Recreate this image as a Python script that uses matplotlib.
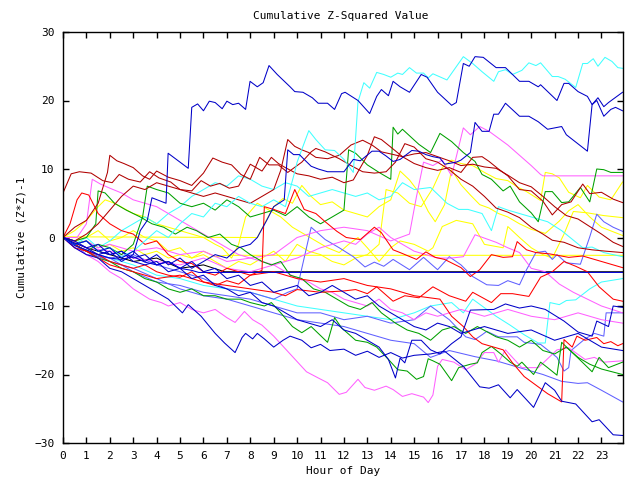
import matplotlib
matplotlib.use('Agg')
import matplotlib.pyplot as plt

# each series: list of (hour, cumulative value)
blue_top = [(0,0),(0.5,-0.8),(1,-1.5),(1.5,-2.5),(2,-2),(2.5,-3.5),(3,-2.5),(3.3,1),(3.6,2.5),(3.8,5.8),(4.4,5),(4.49,12.3),
            (5.35,10.1),(5.5,19),(5.75,19.5),(6.0,18.5),(6.25,19.9),(6.5,19.7),(6.8,18.8),(7.0,19.9),(7.25,19.4),(7.5,19.6),
            (7.8,18.7),(7.99,22.8),(8.3,22),(8.55,22.6),(8.8,25.1),(9.15,23.8),(9.7,22),(9.9,21.3),(10.25,21.2),(10.65,20.4),
            (10.9,19.6),(11.3,19.6),(11.6,18.7),(11.9,21),(12.05,21.2),(12.6,20),(13.1,18.1),(13.4,20.6),(13.6,21.6),(13.9,20.7),
            (14.1,22.8),(14.4,22),(14.8,21.2),(15.3,23.8),(15.55,23.4),(16,21.2),(16.6,19.3),(16.8,19.7),(17.1,25.4),(17.35,25),
            (17.6,26.4),(17.95,26.3),(18.5,24.8),(18.9,24.8),(19.5,22.8),(19.9,22.8),(20.3,22),(20.4,22.3),(21.1,20),(21.4,22.5),
            (21.6,22.5),(22,21.3),(22.4,20.6),(22.6,19.4),(22.8,20),(23.1,17.7),(23.4,18.7),(23.6,19),(23.9,18.5)]
blue_hi = [(0,0),(0.5,-1),(1,-0.5),(1.5,-2),(2,-1.5),(2.5,-3),(3,-2),(3.5,-3.5),(4,-2.5),(4.5,-4),(5,-3),(5.5,-4.5),(6,-3.5),
           (6.5,-2.5),(7,-3),(7.5,-1.5),(8,-1),(8.3,0),(8.7,2.5),(9.0,4.5),(9.45,5.5),(9.6,12.8),(9.85,12.1),(10.1,12.1),(10.3,11.4),
           (10.6,10.4),(10.9,10),(11.3,9.6),(12.0,9.6),(12.4,11.4),(12.7,11.2),(13.2,12.6),(13.5,12.6),(13.8,11.9),(14.1,11.1),
           (14.4,11.4),(14.9,12.7),(15.2,12.6),(15.5,12.1),(15.8,11.8),(16.1,11.6),(16.3,10.7),(16.8,11),(17.0,11.3),(17.4,12.4),
           (17.6,16.8),(17.9,15.5),(18.2,15.5),(18.4,18),(18.6,18),(18.9,19.6),(19.5,17.7),(19.9,17.7),(20.3,16.9),(20.7,15.8),
           (21.3,16.2),(21.5,15),(22.4,12.6),(22.6,19.4),(22.85,20.4),(23.1,19.1),(23.3,19.7),(23.9,21.2)]
cyan_top = [(0,0),(0.5,-1),(1,-0.5),(1.5,-2),(2,-1.5),(2.5,-2.8),(3,-2),(3.5,-0.5),(4,1),(4.5,0),(5,2),(5.5,3.5),(6,3),(6.5,5),
            (7,4.5),(7.5,6),(8,5),(8.5,4.5),(9,5.5),(9.5,4.5),(9.9,9.6),(10.0,11),(10.5,15.6),(10.8,14.3),(11.2,12.8),(11.6,12.7),
            (12.0,11.4),(12.4,9.5),(12.6,19.8),(12.85,22.6),(13.1,21.8),(13.4,24.1),(13.7,23.8),(14.0,23.4),(14.3,24),(14.5,23.8),
            (14.8,24.8),(15.1,24),(15.4,24),(15.6,23.3),(15.8,23.9),(16.4,23),(17.1,26.4),(17.5,25.4),(17.9,24.2),(18.4,22.8),
            (18.6,24.2),(18.9,24.5),(19.2,23.8),(19.6,24.4),(19.9,25.5),(20.2,25.1),(20.4,25.5),(20.9,23.5),(21.15,23.5),(21.45,23.1),
            (21.9,21.9),(22.2,25.4),(22.4,25.4),(22.65,26.1),(22.85,25),(23.15,26.3),(23.45,25.7),(23.7,24.8),(23.9,24.7)]
blue_low = [(0,0),(0.5,-1.5),(1,-2.5),(1.5,-3),(2,-4.5),(2.5,-5),(3,-6),(3.5,-7),(4,-8),(4.5,-9),(5.1,-11),(5.35,-9.8),(5.9,-11.5),
            (6.5,-14),(6.9,-15.4),(7.35,-16.8),(7.65,-14.6),(7.8,-14),(8.1,-14.8),(8.3,-14),(8.6,-14.8),(9.0,-16),(9.4,-15),
            (9.7,-14.4),(10.2,-15),(10.6,-16.1),(11.0,-15.6),(11.4,-16.5),(12.0,-16.3),(12.5,-17.2),(13,-16.6),(13.5,-17.5),
            (14,-16.8),(14.5,-17.6),(15.0,-17.2),(15.7,-17),(16.3,-16.6),(17.1,-18.8),(17.8,-21.8),(18.2,-22),(18.6,-21.5),
            (19.1,-23.4),(19.4,-22.2),(20.1,-24.8),(20.6,-21.2),(21.0,-22.3),(21.3,-23.9),(21.9,-24.3),(22.6,-26.9),(22.9,-26.6),
            (23.5,-28.8),(23.9,-28.9)]
mag_low = [(0,0),(0.5,-1.5),(1,-2.5),(1.5,-3.5),(2,-5),(2.5,-6),(3,-7.5),(3.7,-9),(4.2,-9.5),(4.5,-10),(5,-9.5),(5.5,-10.5),
           (6,-11),(6.5,-10.5),(7,-11.7),(7.35,-12.4),(7.75,-10.8),(8.1,-12),(8.5,-12.8),(9.0,-14.4),(9.7,-17),(10.4,-19.6),
           (10.9,-20.5),(11.3,-21.2),(11.8,-22.9),(12.1,-22.6),(12.6,-20.7),(12.9,-21.9),(13.3,-22.3),(13.8,-21.7),(14.1,-22.2),
           (14.5,-23.2),(14.9,-22.8),(15.4,-23.3),(15.6,-24.1),(15.8,-23),(16.0,-18.8),(16.2,-17.8),(16.7,-18.2),(17.2,-19.3),
           (17.6,-18.5),(18.0,-16.8),(18.4,-16.8),(18.6,-18.2),(18.9,-16.4),(19.6,-19),(20.3,-19),(21.1,-16.4),(21.6,-16.1),
           (22.3,-17.8),(22.7,-17.5),(23.1,-18.2),(23.9,-18)]
red_fall = [(0,0),(0.3,2),(0.6,5.5),(0.8,6.5),(1.1,6.2),(1.5,3.5),(2,2),(2.5,1),(3,0.5),(3.5,-1),(4,-0.5),(4.5,-2.5),(5,-3.5),
            (5.5,-3.8),(6,-5),(6.5,-5.5),(7,-4.5),(8,-5.5),(9,-5),(10,-6),(11,-6.5),(12,-6),(13,-7),(14,-7.5),(15,-8.5),(16.1,-9),
            (16.6,-11.5),(17.1,-13),(17.5,-14.5),(17.9,-15.5),(18.8,-16.4),(19.2,-18.3),(19.7,-20.3),(20.3,-21.8),(20.7,-22.8),
            (21.3,-24),(21.4,-14.9),(21.75,-16),(21.95,-14.4),(22.3,-15),(22.8,-14.6),(23.1,-15.5),(23.4,-15.2),(23.7,-15.8),(23.9,-15.5)]
green_low = [(0,0),(0.5,-1),(1,-2),(1.5,-3),(2,-3.5),(2.5,-4.5),(3,-5),(3.5,-6),(4,-6.5),(4.5,-7.5),(5,-8),(5.5,-7.5),(6,-8.5),
             (6.5,-8.5),(7,-9),(7.6,-9),(8.0,-9.5),(8.6,-10),(8.9,-9.5),(9.3,-11),(9.8,-13),(10.2,-13.9),(10.6,-13),(11.3,-15.3),
             (11.6,-11.7),(11.9,-13.2),(12.5,-15),(13,-15.3),(13.4,-16),(13.9,-17.8),(14.3,-19.3),(14.7,-19.5),(15.1,-20.7),
             (15.4,-20.3),(15.6,-17.7),(15.8,-18),(16.1,-18.5),(16.6,-20.9),(16.9,-19),(17.4,-18.5),(17.7,-18.3),(17.9,-16.8),
             (18.3,-15.9),(18.7,-17),(19.1,-18.2),(19.4,-18.8),(19.6,-18.2),(20.1,-20),(20.4,-18.2),(20.7,-19),(21.1,-20.1),
             (21.3,-15.3),(21.6,-16.3),(22.0,-17.6),(22.6,-19.6),(22.9,-17.5),(23.3,-19),(23.9,-18.2)]
lblue_a = [(0,0),(0.5,-1),(1,-2.5),(2,-3),(3,-5),(4,-6.5),(5,-7),(6,-8),(7,-8.5),(8,-9),(9,-10),(10,-11),(11,-11),(12,-12),
           (13,-11.5),(14,-12.5),(15,-12),(15.7,-10),(16.5,-12),(17.2,-14.5),(17.6,-14.9),(17.9,-14.2),(18.1,-13.7),(18.6,-14.5),
           (19.4,-14.5),(19.7,-15.3),(20.4,-15.6),(21.1,-17.5),(21.4,-19.5),(21.6,-19),(21.7,-16.5),(22.3,-14.8),(22.7,-14),
           (23.1,-14.4),(23.2,-11),(23.9,-11)]
lblue_b = [(0,0),(1,-2),(2,-3.5),(3,-4.5),(4,-6),(5,-7.5),(6,-8.5),(7,-9),(8,-10),(9,-11),(10,-12),(11,-12.5),(12,-13),(13,-14),
           (14,-15),(15,-15.5),(15.7,-17.5),(16.5,-16.5),(17.6,-17.4),(18.5,-18),(19.5,-19),(20.5,-20),(21.3,-21),(22,-21.3),
           (22.4,-21.2),(23,-22.3),(23.9,-24)]
lblue_c = [(0,0),(1,-2),(2,-3),(3,-2.5),(4,-4),(5,-5),(6,-6),(7,-7.5),(8,-8),(9,-9),(9.6,-8),(10,-7.5),(10.3,-3),(10.6,1.5),
           (11.2,-0.3),(11.8,-1.5),(12.4,-2.8),(12.9,-4.3),(13.3,-3.6),(13.7,-4.2),(14.1,-3.2),(14.8,-4.7),(15.4,-2.9),(16,-4.7),
           (16.5,-2.8),(17.0,-4),(17.5,-5.7),(18.1,-6.9),(18.6,-7),(19,-6.3),(19.5,-6.9),(19.8,-4.7),(20.2,-2.2),(20.6,-2),
           (20.9,-3.2),(21.1,-2.5),(21.5,-3.7),(22.1,-3.9),(22.5,0.1),(22.8,3.4),(23.1,2.3),(23.5,1.5),(23.9,0.9)]
cyan_mid = [(0,0),(0.5,-1),(1,0),(1.5,-1.5),(2,-0.5),(2.5,1),(3,2),(3.5,3),(4,2),(4.5,3.5),(5,4.5),(5.5,6),(6,7),(6.5,8),(7,7.5),
            (7.5,9),(8,8.5),(8.5,7.5),(9,7),(9.5,8),(10,7.5),(10.5,6),(11,6.5),(11.5,7),(12,6.5),(12.5,6),(13,6.5),(13.5,5.5),
            (14,6),(14.5,8),(15,7),(15.7,7.3),(16.1,6),(16.4,5),(16.9,4.1),(17.3,4.1),(17.9,3.5),(18.3,1),(18.6,4.5),(19.0,4.0),
            (19.5,3.5),(20.2,2.8),(20.7,2.3),(21.3,1),(22.2,-1.5),(22.6,-1.4),(23.1,-2.2),(23.9,-2.8)]
cyan_low = [(0,0),(1,-2),(2,-3),(3,-4),(4,-5.5),(5,-6),(6,-7),(7,-7.5),(8,-8),(9,-9),(10,-10),(11,-10.5),(12,-11),(13,-11.5),
            (14,-12),(15,-11),(15.7,-10),(16.6,-9.5),(17.1,-11),(17.5,-9),(18.5,-11.5),(19.1,-12.8),(19.7,-14.2),(20.3,-15.4),
            (20.6,-15.4),(20.8,-9.5),(21.2,-9.8),(21.5,-9.2),(21.9,-9.1),(22.5,-7.5),(23,-6.5),(23.9,-6)]
dred_1 = [(0,6.5),(0.35,9.3),(0.7,9.6),(1.2,9.4),(1.7,8.3),(2.1,8.0),(2.4,9.2),(2.8,8.5),(3.3,8.1),(3.7,9.6),(4.1,8.7),(4.6,8.1),
          (5.0,7.0),(5.5,6.8),(5.9,8.3),(6.3,7.5),(6.7,7.9),(7.1,7.2),(7.5,7.5),(8.0,10.7),(8.5,9.7),(8.9,11.7),(9.2,10.8),
          (9.5,10.2),(10.0,9.3),(10.5,9.0),(11.0,8.5),(11.5,8.8),(12.0,8.0),(12.4,8.4),(13.0,12.0),(13.3,14.7),(13.6,14.3),
          (14.0,13.2),(14.5,11.8),(15.0,10.8),(15.5,10.2),(16.0,9.8),(16.5,10.2),(17.0,9.5),(17.5,11.7),(17.9,11.8),(18.2,11.1),
          (18.6,10),(19.0,9.0),(19.5,7.0),(20.0,6.8),(20.5,5.3),(20.9,3.3),(21.3,4.8),(21.7,5.2),(22.2,7.8),(22.5,6.4),(23.0,6.6),
          (23.5,5.6),(23.9,5.1)]
dred_2 = [(0,0),(0.5,1.5),(1.0,2.5),(1.5,5),(1.9,9.5),(2.0,12),(2.3,11.2),(2.6,10.8),(3.0,10.2),(3.4,9),(3.7,8.5),(4.0,9.7),
          (4.5,8.8),(5.0,8.3),(5.5,7.6),(6.0,9.4),(6.4,11.6),(6.8,11),(7.2,10.6),(7.6,9.2),(8.0,8.5),(8.4,11.7),(8.8,10.6),
          (9.2,10.6),(9.6,9.5),(10.2,11),(10.6,12.5),(10.8,13),(11.2,12.5),(11.8,11.5),(12.3,10.5),(12.8,9.6),(13.3,9.4),
          (13.8,9.6),(14.2,11.0),(14.6,13.7),(15.0,13.2),(15.5,11.5),(16.0,11),(16.5,9.9),(17.0,8.5),(17.5,7.5),(18,6.0),
          (18.5,4.3),(19,3.7),(19.5,2.9),(20.0,1.5),(20.5,0.5),(20.9,-0.4),(21.4,-0.7),(22.0,-1.5),(22.6,-1.8),(23.2,-2.0),(23.9,-2.2)]
dred_3 = [(0,0),(0.5,-0.5),(1,0.5),(1.5,2),(2,4),(2.5,6),(3,7.5),(3.5,7),(4,8),(4.5,7.5),(5,7),(5.5,6.5),(6,6),(6.5,6.5),(7,6),
          (7.5,5.5),(8,5),(8.5,6),(9,7),(9.3,9.8),(9.6,14.3),(9.9,13.3),(10.2,12.8),(10.5,12.4),(10.8,11.7),(11.3,11.5),(11.8,12),
          (12.3,13.5),(12.8,14.2),(13.2,13.5),(13.6,12.5),(14.0,12.2),(14.5,11.8),(15.0,12.2),(15.5,12.4),(16.0,11.8),(16.5,11.2),
          (17.0,10.5),(17.5,10.7),(18.0,10.3),(18.5,10.1),(19.0,9.1),(19.5,8.0),(20,7.4),(20.5,6.0),(21,4.5),(21.5,3.2),(22,2.7),
          (22.5,1.6),(23,0.5),(23.5,-0.7),(23.9,-1.3)]
red_b = [(0,0),(0.5,-1),(1,-2),(1.5,-2.5),(2,-3.5),(2.5,-4),(3,-4.5),(3.5,-4),(4,-5),(4.5,-5.5),(5,-5.8),(5.5,-5),(6,-6.5),
         (6.5,-7),(7,-6.3),(7.5,-6.8),(8.0,-5.5),(8.5,-4.8),(8.6,4.5),(9.0,4.1),(9.5,3.5),(9.9,7.0),(10.3,4.1),(10.8,3.5),
         (11.2,2.3),(11.7,0.9),(12.1,0),(12.7,-0.3),(13.3,1.5),(13.6,0.7),(14.1,-1.8),(14.4,-2.2),(15.1,-3.2),(15.5,-2.1),
         (15.9,-2.9),(16.3,-3.2),(17.0,-4.4),(17.4,-5.7),(17.8,-4.7),(18.3,-2.5),(18.8,-2.9),(19.2,-2.8),(19.4,-0.6),(19.8,-1.8),
         (20.2,-2.2),(20.8,-2.4),(21.6,-2.9),(22.2,-2.7),(22.8,-3.3),(23.9,-4.4)]
red_c = [(0,0),(0.5,-1.5),(1,-2),(2,-4),(3,-5),(4,-6),(5,-5.5),(6,-6.5),(7,-7),(8,-7.5),(9,-8),(9.5,-8.5),(10.0,-7.6),(11.0,-8.0),
         (12.0,-7.8),(12.5,-7.6),(13.0,-8.2),(13.4,-7.2),(14.1,-9.3),(14.6,-8.5),(15.2,-8.8),(15.8,-7.2),(16.5,-8.5),(17.2,-9.3),
         (17.5,-8),(18.3,-9.5),(18.7,-8.2),(19.2,-8.2),(19.9,-8.6),(20.4,-5.8),(20.9,-5.0),(21.4,-3.5),(21.9,-4.2),(22.4,-5.0),
         (22.9,-7.2),(23.5,-9.0),(23.9,-9.3)]
mag_flat = [(0,0),(0.5,-1),(1,-0.5),(1.5,-1.5),(2,-1),(3,-2),(4,-1.5),(5,-2.5),(6,-2),(7,-3.5),(8,-3),(9,-2.5),(10,0),(11,1),
            (12,1.5),(13,1),(14,-0.5),(14.4,0),(14.8,0.5),(15.1,6),(15.4,11),(15.8,10.5),(16.2,11.3),(16.6,9),(17.1,16),(17.4,15),
            (17.8,16.2),(18.2,15.5),(18.6,14.5),(19,13.5),(19.5,12),(20,10.5),(20.4,9.2),(20.5,9),(23.9,9)]
mag_mid = [(0,0),(1,-1.5),(2,-2),(3,-3),(4,-3.5),(5,-4),(6,-3),(7,-4.5),(8,-5),(9,-4),(10,-3),(11,-1.5),(12,-0.5),(12.5,-1),
           (13,0.5),(13.5,1.5),(14,0),(14.5,-1),(15.0,-2),(15.5,-2.5),(16,-3),(16.6,-3),(17.1,-2.8),(17.6,0.4),(18.5,-0.7),
           (19,-1.5),(19.5,-2.2),(20,-4.5),(20.6,-5),(21.2,-6.8),(21.8,-8),(22.4,-9),(23,-10),(23.9,-11)]
mag_peak = [(0,0),(0.6,0),(1.0,2),(1.25,8.5),(1.6,7.8),(2,7.2),(2.5,6.5),(3,5.5),(3.5,5),(4,4.5),(4.5,3.5),(5,2.5),(5.5,1.5),
            (6,0.5),(6.5,-0.5),(7,-1.5),(7.5,-2.5),(8,-3),(8.5,-3.5),(9,-4),(9.5,-5),(10,-6),(10.5,-6.5),(11,-7.5),(11.5,-8),
            (12,-9),(12.5,-9.5),(13,-10),(13.5,-9),(14,-10.5),(14.5,-11),(15,-12),(15.5,-11),(16,-11.5),(17,-10.5),(18,-11.5),
            (19,-10.5),(20,-11.5),(21,-12),(22,-11),(23,-12),(23.9,-12.5)]
green_mid = [(0,0),(0.5,-1),(1,-2),(1.5,-1),(2,-1.5),(2.5,-2.5),(3,-1),(3.4,3),(3.6,7.5),(4.0,7.0),(4.5,6.5),(5,5),(5.5,4.5),
             (6,5),(6.5,4),(7,5.5),(7.5,4.5),(8.0,3),(8.5,3.5),(9,4),(9.5,3.2),(10,4.5),(10.5,3.0),(11,2),(11.5,3),(12.0,4),
             (12.2,12.8),(12.5,12.3),(13,10.6),(13.5,9.5),(14.0,8.5),(14.1,16.1),(14.3,15.1),(14.5,15.8),(15.2,13.6),(15.7,12.4),
             (16.1,15.2),(16.6,14),(17.1,12.4),(17.6,11.1),(17.9,9.2),(18.3,8.5),(18.8,6.8),(19.1,7.5),(19.5,5.2),(20.0,3.6),
             (20.3,2.3),(20.6,6.7),(20.9,6.7),(21.3,5.1),(21.6,5.2),(22.1,7.3),(22.5,5.2),(22.8,10.0),(23.1,9.9),(23.4,9.5),(23.9,9.5)]
green_3 = [(0,0),(0.5,-0.5),(1.0,0),(1.4,2),(1.5,6.8),(1.8,6.5),(2.2,5),(2.7,4),(3.3,3),(3.8,2),(4.3,1.5),(4.8,0.5),(5.3,1.5),
           (5.7,1),(6.2,0),(6.7,0.5),(7.2,-1),(7.6,-1.5),(8.0,-2.5),(8.5,-3.5),(8.9,-4),(9.3,-3.5),(9.7,-5.5),(10.2,-6),(10.7,-7.5),
           (11.2,-8),(11.7,-9),(12.2,-10),(12.7,-10.5),(13.2,-9.5),(13.6,-11),(14.2,-12.5),(14.7,-13.5),(15.2,-14),(15.7,-15),
           (16.2,-13.5),(16.7,-13),(17.2,-14),(17.7,-13),(18.5,-14.5),(19,-15),(19.5,-16),(20,-15),(20.5,-16.5),(21,-17),
           (21.5,-16),(22,-17.5),(22.5,-18.5),(23,-19.2),(23.9,-20)]
yellow_a = [(0,0),(0.2,0.1),(8.3,0.0),(8.6,2),(9.0,4.5),(9.4,5.7),(9.8,5.0),(10.2,7.6),(10.6,6.0),(11.0,4.8),(11.5,5.2),(12.0,4.0),
            (12.5,3.5),(13.0,3.0),(13.5,4.5),(14.0,5.5),(14.4,9.7),(14.8,8.4),(15.2,6.6),(15.6,3.8),(15.9,2.3),(16.3,4.8),(16.6,9.9),
            (17.0,7.7),(17.4,6.2),(17.8,4.8),(18.2,4.3),(18.6,3.5),(19.0,3.0),(19.5,2.0),(20.0,1.2),(20.6,0.6),(21.2,2.4),(21.6,3.9),
            (22.0,4.8),(22.5,3.0),(23.0,1.5),(23.9,0.3)]
yellow_b = [(0,0),(0.5,-0.8),(1.0,-0.5),(1.5,-1.5),(2,-1),(2.5,-2),(3,-1.5),(3.5,-2.5),(4,-2),(4.5,-3),(5,-2.5),(5.5,-3),(6,-2),
            (6.5,-2.8),(7.0,-2.6),(23.9,-2.6)]
yellow_c = [(0,0),(0.5,1),(1,2.5),(1.5,4.5),(1.8,5.5),(2.2,5),(3,3.5),(3.5,3),(4,2),(4.5,1.5),(5,1),(5.5,0.5),(6,0),(6.5,-1),
            (6.8,-1.5),(7.2,-3),(7.5,-1),(7.8,3),(8.3,5),(8.8,4),(9.3,3),(9.8,1.5),(10.3,0.5),(10.8,-0.5),(11.3,-1.5),(11.8,-2.2),
            (12.2,-1),(12.6,0),(13,-1.5),(13.5,-3.5),(14.0,-1.5),(14.4,-0.5),(15.0,-1),(15.6,-2),(15.8,-1.5),(16.2,1.6),(16.8,2.5),
            (17.5,2.0),(18.0,-1),(18.8,-1.5),(19.0,1.6),(19.5,0),(20.0,-1.5),(20.5,-2.5),(20.9,-3),(21.4,0.5),(21.8,3.8),(22.4,3.6),
            (23.1,3.2),(23.9,2.9)]
yellow_d = [(0,0),(0.5,-0.5),(1,0),(1.5,1),(2,-0.5),(2.5,0),(3,1),(3.5,0),(4,-0.5),(4.5,-2),(5,-1.5),(5.5,-3),(6,-2.5),
            (6.5,-3.5),(7,-4.5),(7.5,-3.5),(8,-4),(8.5,-3),(9,-2),(9.5,-3.5),(10,-1),(10.5,-2),(11,-2.5),(11.5,-3.5),(12,-4),
            (12.5,-3),(13,-2.5),(13.5,-1),(13.8,7),(14.3,6.5),(14.8,5),(15.3,4.5),(15.8,7.2),(16.2,10.2),(16.6,11.3),(17,10.8),
            (17.5,10.5),(18,9.5),(18.5,8.6),(19,8.3),(19.4,7.4),(19.8,6.7),(20.4,5.4),(20.6,9.5),(20.9,9.3),(21.2,8.7),(21.6,6.6),
            (22.1,5.8),(22.4,7.6),(22.9,5.9),(23.4,5.5),(23.9,8.1)]
blue_m1 = [(0,0),(0.5,-1),(1,-0.5),(1.5,-2),(2,-2.5),(2.5,-2),(3,-3.5),(3.5,-4),(4,-3.5),(4.5,-5),(5,-4.5),(5.5,-6),(6,-5.5),
           (6.5,-7),(7,-7.5),(7.5,-8.5),(8,-8),(8.5,-9.5),(9,-10),(9.5,-11),(10,-12),(10.5,-12.5),(11,-13),(11.5,-12),(12,-13.5),
           (12.5,-14),(13,-15),(13.5,-16),(13.9,-17.8),(14.2,-20.5),(14.4,-17.6),(14.6,-18.3),(14.9,-15),(15.3,-15),(15.7,-16.4),
           (16.1,-17),(16.6,-15.5),(17.0,-14.5),(17.4,-10.6),(18.4,-10.5),(18.9,-9.7),(19.5,-10.3),(20,-10),(20.6,-10.5),
           (21.4,-12.2),(22,-13.8),(22.6,-14.4),(22.8,-12.2),(23.3,-13),(23.5,-10),(23.9,-10.2)]
blue_m2 = [(0,0),(0.5,-0.5),(1,-1.5),(1.5,-1),(2,-2.5),(2.5,-2),(3,-3),(3.5,-2.5),(4,-4),(4.5,-3.5),(5,-4.5),(5.5,-3.5),(6,-5),
           (6.5,-4.5),(7,-6),(7.5,-5.5),(8,-7),(8.5,-6.5),(9,-8),(9.5,-7.5),(10,-7),(10.5,-8.5),(11,-8),(11.5,-7),(12,-8),
           (12.5,-9),(13,-8.5),(13.5,-10),(14,-11),(14.5,-12),(15,-13),(15.5,-13.5),(16,-12.5),(16.5,-13),(17,-14),(18,-13),
           (19,-14),(20,-13.5),(21,-15),(22,-14),(23,-16),(23.9,-16.5)]
blue_flat = [(0,0),(0.5,-1.2),(1,-1.8),(1.5,-2.5),(2,-3),(2.5,-3.2),(3,-2.8),(3.5,-3.6),(4,-4),(4.5,-3.5),(5,-4.5),(5.5,-4.8),
             (5.8,-5.1),(23.9,-5.1)]
black_flat = [(0,0),(1,-1.5),(2,-2.5),(3,-3.5),(4,-3),(5,-4.5),(6,-4),(6.9,-5),(23.9,-5)]

DRED, RED, GREEN, DBLUE, BLUE = '#b00000', '#ff0000', '#00a000', '#0000c8', '#0000d8'
LBLUE, MAG, CYAN, YEL = '#6060ff', '#ff60ff', '#40ffff', '#ffff00'

series = [
    (black_flat, 'black'), (yellow_b, YEL), (yellow_a, YEL), (yellow_c, YEL), (yellow_d, YEL),
    (cyan_mid, CYAN), (cyan_low, CYAN), (lblue_c, LBLUE), (lblue_a, LBLUE), (lblue_b, LBLUE),
    (mag_peak, MAG), (mag_mid, MAG), (mag_low, MAG), (mag_flat, MAG),
    (green_3, GREEN), (green_low, GREEN), (green_mid, GREEN),
    (red_c, RED), (red_b, RED), (red_fall, RED),
    (dred_3, DRED), (dred_2, DRED), (dred_1, DRED),
    (blue_m2, DBLUE), (blue_m1, DBLUE), (blue_low, DBLUE), (blue_flat, BLUE),
    (cyan_top, CYAN), (blue_hi, DBLUE), (blue_top, DBLUE),
]

plt.rcParams['font.family'] = 'DejaVu Sans Mono'
plt.rcParams['font.size'] = 8

fig = plt.figure(figsize=(6.4, 4.8), dpi=100)
ax = fig.add_axes([63/640, 37/480, 560/640, 411/480])

for pts, col in series:
    hours = [p[0] for p in pts]
    vals = [p[1] for p in pts]
    ax.plot(hours, vals, color=col, linewidth=0.75)

ax.set_xlim(0, 23.92)
ax.set_ylim(-30, 30)
ax.set_xticks(range(24))
ax.set_yticks(range(-30, 31, 10))
ax.tick_params(direction='in', top=True, right=True, length=4, width=1, pad=6)
for s in ax.spines.values():
    s.set_linewidth(1)

fig.text(341/640, 1 - 16/480, 'Cumulative Z-Squared Value', ha='center', va='center')
fig.text(343/640, 1 - 471/480, 'Hour of Day', ha='center', va='center')
fig.text(22/640, 1 - 237/480, 'Cumulative (Z*Z)-1', ha='center', va='center', rotation=90)

fig.savefig('out.png', dpi=100)
